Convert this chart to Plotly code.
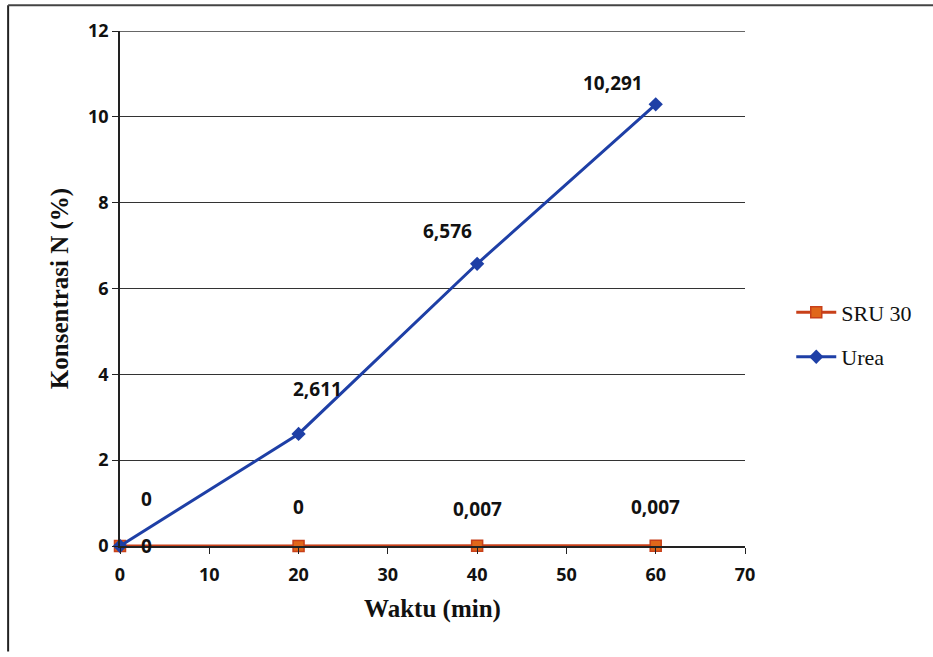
import plotly.graph_objects as go

# Sampling times (minutes) and nitrogen concentration (%)
waktu = [0, 20, 40, 60]
sru30 = [0, 0, 0.007, 0.007]
urea = [0, 2.611, 6.576, 10.291]

x_ticks = [0, 10, 20, 30, 40, 50, 60, 70]
y_ticks = [0, 2, 4, 6, 8, 10, 12]

# Pixel offsets of each data label from its point
sru_label_shift = [(26, 0), (0, 39), (0, 37), (0, 39)]
urea_label_shift = [(26, 47), (19, 45), (-30, 33), (-43, 21)]


def fmt(v):
    return f"{v:g}".replace(".", ",")


fig = go.Figure()

fig.add_trace(go.Scatter(
    x=waktu, y=sru30, name="SRU 30", mode="lines+markers",
    legendgroup="sru",
    line=dict(color="#C8401A", width=3),
    marker=dict(symbol="square", size=11, color="#E0671A",
                line=dict(color="#C8401A", width=1.5)),
    cliponaxis=False,
))
fig.add_trace(go.Scatter(
    x=waktu, y=urea, name="Urea", mode="lines+markers",
    legendgroup="urea",
    line=dict(color="#1E3FA6", width=3),
    marker=dict(symbol="diamond", size=11, color="#1E3FA6"),
    cliponaxis=False,
))

label_font = dict(family="Open Sans", size=19, color="#111111")
for xs, ys, shifts in ((waktu, sru30, sru_label_shift), (waktu, urea, urea_label_shift)):
    for xv, yv, (dx, dy) in zip(xs, ys, shifts):
        fig.add_annotation(
            x=xv, y=yv, xref="x", yref="y", text=f"<b>{fmt(yv)}</b>",
            showarrow=False, xshift=dx, yshift=dy,
            font=label_font, xanchor="center", yanchor="middle",
        )

# Gridline at the top of the value range
fig.add_shape(type="line", xref="paper", yref="y",
              x0=0, x1=1, y0=12, y1=12,
              line=dict(color="#333333", width=1.5))

# Outer frame lines (left and top)
fig.add_shape(type="line", xref="paper", yref="paper",
              x0=-0.179, x1=-0.179, y0=-0.205, y1=1.05,
              line=dict(color="#222222", width=2))
fig.add_shape(type="line", xref="paper", yref="paper",
              x0=-0.179, x1=1.31, y0=1.05, y1=1.05,
              line=dict(color="#444444", width=2))

tick_font = dict(family="Open Sans", size=18, color="#111111")
title_font = dict(family="Liberation Serif", size=25, color="#111111")

fig.update_layout(
    width=933, height=657,
    margin=dict(l=120, r=188, t=31, b=111),
    paper_bgcolor="white", plot_bgcolor="white",
    showlegend=True,
    legend=dict(x=1.074, y=0.41, xanchor="left", yanchor="middle",
                font=dict(family="Liberation Serif", size=22, color="#111111"),
                bgcolor="rgba(0,0,0,0)", itemwidth=40,
                traceorder="grouped", tracegroupgap=13),
    xaxis=dict(
        range=[0, 70], tickvals=x_ticks,
        ticktext=[f"<b>{v}</b>" for v in x_ticks],
        showline=True, linecolor="#222222", linewidth=1.5,
        ticks="outside", ticklen=6, tickcolor="#222222",
        ticklabelstandoff=6,
        showgrid=False, zeroline=False, tickfont=tick_font,
        title=dict(text="<b>Waktu (min)</b>", font=title_font, standoff=14),
    ),
    yaxis=dict(
        range=[0, 12], tickvals=y_ticks,
        ticktext=[f"<b>{v}</b>" for v in y_ticks],
        showline=True, linecolor="#222222", linewidth=1.5,
        ticks="outside", ticklen=6, tickcolor="#222222",
        showgrid=True, gridcolor="#333333", gridwidth=1.2,
        zeroline=False, tickfont=tick_font,
        title=dict(text="<b>Konsentrasi N (%)</b>", font=title_font, standoff=12),
    ),
)

fig.write_html("out.html")
